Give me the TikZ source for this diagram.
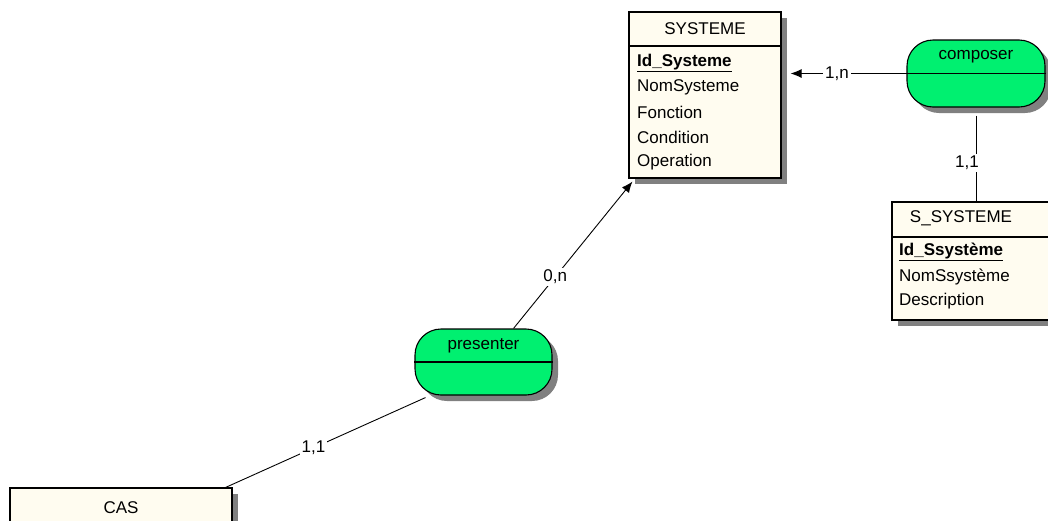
\documentclass[tikz,border=0pt]{standalone}
\usepackage{fontspec}
\setmainfont{Liberation Sans}
\usetikzlibrary{positioning, arrows.meta, shadows, calc}

\definecolor{cream}{RGB}{255,252,240}
\definecolor{relgreen}{RGB}{0,240,112}
\definecolor{shadowgray}{RGB}{128,128,128}

\begin{document}
\begin{tikzpicture}[
    x=1pt, y=-1pt,
    font=\fontsize{17}{20}\selectfont,
    entity/.style={draw, line width=1.1pt, fill=cream, inner sep=0pt,
        drop shadow={shadow xshift=6pt, shadow yshift=-6pt, fill=shadowgray, opacity=1}},
    relation/.style={draw, line width=1.1pt, fill=relgreen, inner sep=0pt, rounded corners=26pt,
        drop shadow={shadow xshift=6pt, shadow yshift=-6pt, fill=shadowgray, opacity=1}},
    attr/.style={anchor=west, inner sep=0pt},
    link/.style={line width=0.9pt},
    card/.style={fill=white, inner sep=2pt}
]
\useasboundingbox (0,0) rectangle (1048,520);
\clip (0,0) rectangle (1048,520);

% entite SYSTEME
\node[entity, minimum width=152, minimum height=166] (systeme) at (705,95) {};
\node (systemeTitle) at (705,29) {SYSTEME};
\draw[line width=1.1pt] (systeme.west |- 0,46) -- (systeme.east |- 0,46);
\node[attr] (sysId) at (637,63) {\underline{\textbf{Id\_Systeme}}};
\node[attr] (sysNom) at (637,87) {NomSysteme};
\node[attr] (sysFct) at (637,112) {Fonction};
\node[attr] (sysCond) at (637,137) {Condition};
\node[attr] (sysOp) at (637,162) {Operation};

% entite S_SYSTEME
\node[entity, minimum width=162, minimum height=118] (ssysteme) at (973,261) {};
\node (ssystemeTitle) at (961,218) {S\_SYSTEME};
\draw[line width=1.1pt] (ssysteme.west |- 0,237) -- (ssysteme.east |- 0,237);
\node[attr] (ssysId) at (899,252) {\underline{\textbf{Id\_Ssystème}}};
\node[attr] (ssysNom) at (899,277) {NomSsystème};
\node[attr] (ssysDesc) at (899,301) {Description};

% entite CAS
\node[entity, minimum width=222, minimum height=80] (cas) at (121,528) {};
\node (casTitle) at (121,508) {CAS};

% association composer
\node[relation, minimum width=138, minimum height=67] (composer) at (976,73.5) {};
\node (composerTitle) at (976,57) {composer};
\draw[line width=1.1pt] (composer.west) -- (composer.east);

% association presenter
\node[relation, minimum width=137, minimum height=66] (presenter) at (483.5,362) {};
\node (presenterTitle) at (483.5,346) {presenter};
\draw[line width=1.1pt] (presenter.west) -- (presenter.east);

% liens
\draw[link, -{Latex[length=11pt,width=9pt]}] (composer.west) -- node[card, pos=0.6] {1,n} ([xshift=9pt]systeme.east |- composer.west);
\draw[link] ([yshift=-8pt]composer.south) -- node[card, pos=0.55, xshift=-9pt] {1,1} (ssysteme.north -| composer.south);
\draw[link, -{Latex[length=11pt,width=9pt]}] ([xshift=30pt]presenter.north) -- node[card, pos=0.35] {0,n} ([xshift=4pt, yshift=-3pt]systeme.south west);
\draw[link] ([xshift=-58pt, yshift=-2pt]presenter.south) -- node[card, pos=0.56] {1,1} ([xshift=-7pt]cas.north east);
\end{tikzpicture}
\end{document}
